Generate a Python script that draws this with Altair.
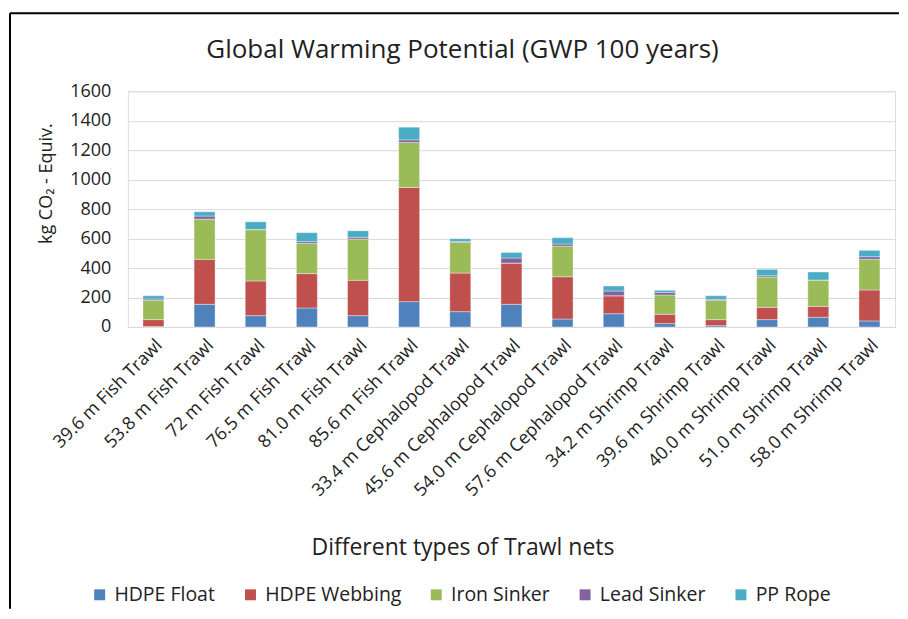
import altair as alt
import pandas as pd

nets = ["39.6 m Fish Trawl", "53.8 m Fish Trawl", "72 m Fish Trawl", "76.5 m Fish Trawl",
        "81.0 m Fish Trawl", "85.6 m Fish Trawl", "33.4 m Cephalopod Trawl",
        "45.6 m Cephalopod Trawl", "54.0 m Cephalopod Trawl", "57.6 m Cephalopod Trawl",
        "34.2 m Shrimp Trawl", "39.6 m Shrimp Trawl", "40.0 m Shrimp Trawl",
        "51.0 m Shrimp Trawl", "58.0 m Shrimp Trawl"]
components = ["HDPE Float", "HDPE Webbing", "Iron Sinker", "Lead Sinker", "PP Rope"]
colors = ["#4F81BD", "#C0504D", "#9BBB59", "#8064A2", "#4BACC6"]

hdpe_float = [3, 154, 77, 129, 77, 172, 104, 154, 54, 90, 23, 9, 50, 66, 41]
hdpe_webbing = [47, 305, 235, 233, 240, 775, 262, 280, 287, 122, 63, 41, 83, 74, 210]
iron_sinker = [131, 273, 348, 205, 280, 305, 208, 0, 208, 0, 131, 131, 206, 179, 208]
lead_sinker = [9, 21, 2, 12, 12, 18, 7, 34, 14, 32, 18, 7, 9, 0, 18]
pp_rope = [22, 29, 52, 61, 44, 86, 18, 38, 43, 34, 14, 24, 43, 54, 43]

series = [hdpe_float, hdpe_webbing, iron_sinker, lead_sinker, pp_rope]
y_ticks = [0, 200, 400, 600, 800, 1000, 1200, 1400, 1600]

rows = []
for ci, (comp, vals) in enumerate(zip(components, series)):
    for net, v in zip(nets, vals):
        rows.append({"net": net, "component": comp, "value": v, "idx": ci})
df = pd.DataFrame(rows)

FONT = "Open Sans"
TXT = "#222222"

bars = alt.Chart(df).mark_bar(stroke="white", strokeWidth=0.6, strokeOpacity=0.6).encode(
    x=alt.X("net:N", sort=nets,
            scale=alt.Scale(paddingInner=0.59, paddingOuter=0.295),
            axis=alt.Axis(title="Different types of Trawl nets", labelAngle=-45,
                          labelFontSize=18, labelColor=TXT, labelFont=FONT,
                          labelPadding=9, labelLimit=0, ticks=False, domain=False,
                          titleFont=FONT, titleFontSize=23, titleFontWeight="normal",
                          titleColor=TXT, titleX=335, titleY=221,
                          titleBaseline="middle", titleAlign="center")),
    y=alt.Y("value:Q", stack="zero",
            scale=alt.Scale(domain=[0, 1600], nice=False),
            axis=alt.Axis(title="kg CO₂ - Equiv.", values=y_ticks, format="d",
                          labelFontSize=18, labelFont=FONT, labelColor=TXT,
                          labelPadding=17, ticks=False, domain=False, gridColor="#D9D9D9",
                          titleFont=FONT, titleFontSize=18, titleFontWeight="normal",
                          titleColor=TXT, titleX=-81, titleY=92,
                          titleAngle=-90, titleBaseline="middle", titleAlign="center")),
    color=alt.Color("component:N", sort=components,
                    scale=alt.Scale(domain=components, range=colors),
                    legend=alt.Legend(title=None, orient="none", legendX=-38, legendY=494,
                                      direction="horizontal", columns=5,
                                      symbolType="square", symbolSize=120,
                                      symbolStrokeWidth=0, labelFont=FONT,
                                      labelFontSize=19.5, labelColor=TXT,
                                      columnPadding=25, labelOffset=5)),
    order=alt.Order("idx:Q", sort="ascending"),
)

frame_df = pd.DataFrame({"k": [0]})
frame_left = alt.Chart(frame_df).mark_rule(color="black", strokeWidth=2).encode(
    x=alt.value(-118), y=alt.value(-78), y2=alt.value(518))
frame_top = alt.Chart(frame_df).mark_rule(color="black", strokeWidth=2).encode(
    x=alt.value(-118), x2=alt.value(772), y=alt.value(-78))

chart = alt.layer(bars, frame_left, frame_top).properties(
    width=768, height=236,
    padding={"left": 1, "top": 4, "right": 0, "bottom": 0},
    title=alt.TitleParams("Global Warming Potential (GWP 100 years)", font=FONT,
                          fontSize=26, fontWeight="normal", color=TXT,
                          anchor="middle", frame="group", dx=-49, offset=-51),
).configure_view(stroke=None).configure(background="white")

chart.save("out.html", embed_options={"renderer": "svg", "actions": False})
